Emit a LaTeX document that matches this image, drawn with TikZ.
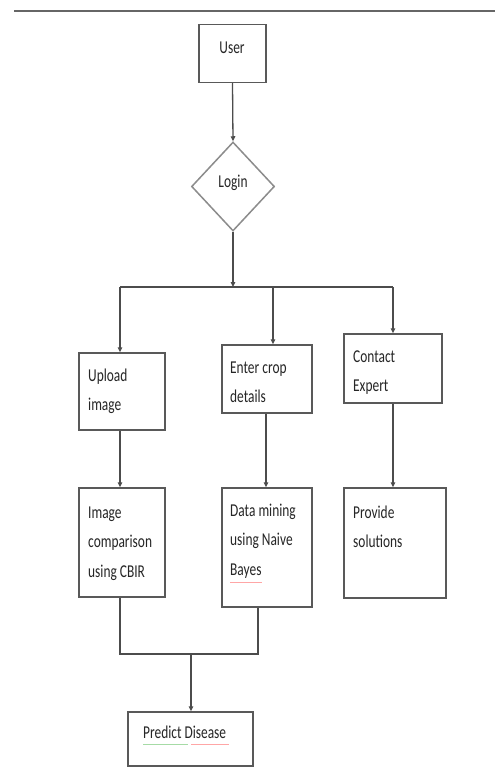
\documentclass[tikz,border=0pt]{standalone}
\usepackage{fontspec}
\setmainfont{Carlito}
\usetikzlibrary{shapes.geometric,arrows.meta}
\newcommand\txl[1]{\scalebox{1}[1.35]{\fontsize{13.4}{22.2}\selectfont\begin{tabular}[t]{@{}l@{}}#1\end{tabular}}}
\newcommand\txc[1]{\scalebox{1}[1.35]{\fontsize{13.4}{22.2}\selectfont #1}}
\begin{document}
\begin{tikzpicture}[x=1pt,y=-1pt,
  boxstyle/.style={draw=black!65, line width=1.5pt, rectangle, inner sep=0pt},
  lbl/.style={anchor=base west, inner sep=0pt, text=black!85},
  conn/.style={draw=black!70, line width=1.3pt},
  arr/.style={conn, -{Triangle[length=5pt,width=4.5pt]}}]
\useasboundingbox[fill=white] (0,0) rectangle (495,767);
\draw[black!60, line width=2pt] (14,11) -- (495,11);
% nodes
\node[boxstyle, minimum width=67pt, minimum height=58pt] (user) at (232.5,53.5) {};
\node[inner sep=0pt, text=black!85] (usert) at (232,48) {\txc{User}};
\node[draw=black!45, line width=1.5pt, diamond, minimum width=83pt, minimum height=89pt, inner sep=0pt] (login) at (233,186.5) {};
\node[inner sep=0pt, text=black!85] (logint) at (233,183) {\txc{Login}};
\node[boxstyle, minimum width=86pt, minimum height=77pt] (upload) at (122,391.5) {};
\node[boxstyle, minimum width=90pt, minimum height=68pt] (enter) at (267,379) {};
\node[boxstyle, minimum width=98pt, minimum height=69pt] (contact) at (393,368.5) {};
\node[boxstyle, minimum width=86pt, minimum height=109pt] (imgc) at (122,542.5) {};
\node[boxstyle, minimum width=90pt, minimum height=119pt] (datam) at (267,547.5) {};
\node[boxstyle, minimum width=102pt, minimum height=110pt] (provide) at (395,543) {};
\node[boxstyle, minimum width=125pt, minimum height=54pt] (predict) at (190.5,739) {};
% texts
\node[lbl] (t1) at (88,381) {\txl{Upload\\image}};
\node[lbl] (t2) at (230,373) {\txl{Enter crop\\details}};
\node[lbl] (t3) at (353,362) {\txl{Contact\\Expert}};
\node[lbl] (t4) at (88,518) {\txl{Image\\comparison\\using CBIR}};
\node[lbl] (t5) at (230,516) {\txl{Data mining\\using Naive\\Bayes}};
\node[lbl] (t6) at (353,518) {\txl{Provide\\solutions}};
\node[lbl] (t7) at (143,738) {\txl{Predict Disease}};
% spell-check marks
\draw[green!60!black!35, line width=0.8pt] (143,744) -- (188,744);
\draw[red!35, line width=0.8pt] (191,744) -- (229,744);
\draw[red!35, line width=0.8pt] (230,582) -- (262,582);
% coordinates
\coordinate (j) at (233,287);
\coordinate (jl) at (120,287);
\coordinate (jm) at (273,287);
\coordinate (jr) at (393,287);
\coordinate (bl) at (120,654);
\coordinate (br) at (258,654);
\coordinate (bm) at (191,654);
% connectors
\draw[arr] (user.south) -- (login.north);
\draw[arr] (login.south) -- (j);
\draw[conn] (jl) -- (jr);
\draw[arr] (jl) -- (jl |- upload.north);
\draw[arr] (jm) -- (jm |- enter.north);
\draw[arr] (jr) -- (jr |- contact.north);
\draw[arr] (120,0 |- upload.south) -- (120,0 |- imgc.north);
\draw[arr] (266,0 |- enter.south) -- (266,0 |- datam.north);
\draw[arr] (393,0 |- contact.south) -- (393,0 |- provide.north);
\draw[conn] (bl |- imgc.south) -- (bl) -- (br) -- (br |- datam.south);
\draw[arr] (bm) -- (bm |- predict.north);
\end{tikzpicture}
\end{document}
